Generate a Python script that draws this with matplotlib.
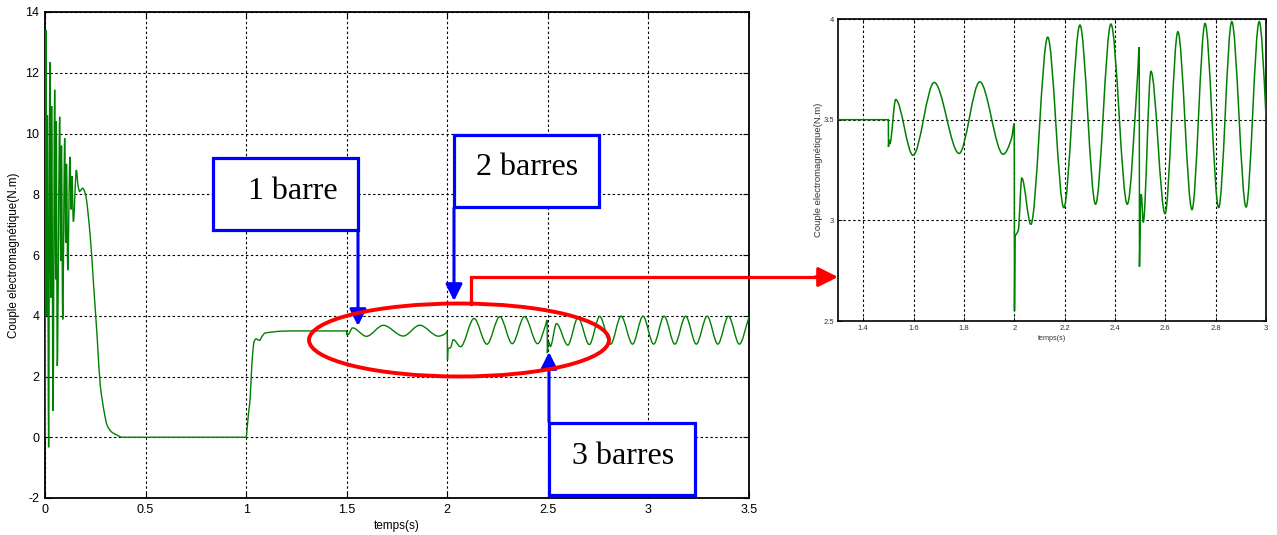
import matplotlib
matplotlib.use("Agg")
import matplotlib.pyplot as plt
from matplotlib.patches import Rectangle, Ellipse, FancyArrowPatch, PathPatch
from matplotlib.path import Path
from matplotlib.lines import Line2D
import numpy as np

W, H = 1277, 535

# ---------------- data (key points) ----------------
t_start = [0.000, 0.005, 0.009, 0.012, 0.018, 0.024, 0.029, 0.033, 0.040, 0.048, 0.053, 0.056,
           0.061, 0.073, 0.078, 0.082, 0.088, 0.098, 0.103, 0.107, 0.113, 0.124, 0.130, 0.134,
           0.141, 0.156, 0.164, 0.172, 0.180, 0.187, 0.200, 0.225, 0.242, 0.259, 0.275, 0.283,
           0.295, 0.308, 0.330, 0.358, 0.383, 0.400]
y_start = [0.0, 13.4, 4.0, 10.6, -0.33, 12.35, 4.6, 10.9, 0.87, 11.44, 5.2, 10.4,
           2.35, 10.55, 5.8, 9.6, 3.88, 9.84, 6.4, 9.0, 5.5, 9.23, 7.5, 8.6,
           7.1, 8.8, 8.3, 8.09, 8.15, 8.2, 8.03, 6.61, 4.97, 3.33, 1.69, 1.3,
           0.8, 0.41, 0.18, 0.07, 0.0, 0.0]

t_load = [1.000, 1.005, 1.012, 1.020, 1.028, 1.040, 1.050, 1.058, 1.066, 1.080, 1.094, 1.127,
          1.169, 1.250, 1.500]
y_load = [0.0, 0.3, 0.8, 1.28, 2.35, 3.16, 3.24, 3.21, 3.19, 3.33, 3.43, 3.46,
          3.49, 3.50, 3.50]

t_bar1 = [1.5005, 1.503, 1.506, 1.529, 1.598, 1.682, 1.781, 1.863, 1.956, 1.990, 2.000]
y_bar1 = [3.365, 3.40, 3.38, 3.60, 3.323, 3.685, 3.332, 3.688, 3.328, 3.41, 3.48]

t_bar2 = [2.001, 2.003, 2.0075, 2.016, 2.030, 2.066, 2.133, 2.197, 2.261, 2.323, 2.384, 2.449,
          2.490, 2.4965]
y_bar2 = [2.55, 2.92, 2.93, 2.95, 3.21, 2.98, 3.91, 3.063, 3.97, 3.08, 3.975, 3.08,
          3.72, 3.86]

t_bar3 = [2.4975, 2.5005, 2.5045, 2.5124, 2.543, 2.599, 2.650, 2.706, 2.758, 2.812, 2.864,
          2.921, 2.973]
y_bar3 = [2.77, 3.05, 3.13, 2.99, 3.74, 3.033, 3.937, 3.053, 3.978, 3.063, 3.987,
          3.066, 3.987]

t_tail = [3.026, 3.078, 3.131, 3.185, 3.238, 3.292, 3.345, 3.398, 3.452, 3.500]
y_tail = [3.066, 3.985, 3.066, 3.985, 3.066, 3.985, 3.066, 3.985, 3.066, 3.96]

main_xticks = [0, 0.5, 1, 1.5, 2, 2.5, 3, 3.5]
main_xlabels = ["0", "0.5", "1", "1.5", "2", "2.5", "3", "3.5"]
main_yticks = [-2, 0, 2, 4, 6, 8, 10, 12, 14]
main_ylabels = ["-2", "0", "2", "4", "6", "8", "10", "12", "14"]
zoom_xticks = [1.4, 1.6, 1.8, 2.0, 2.2, 2.4, 2.6, 2.8, 3.0]
zoom_xlabels = ["1.4", "1.6", "1.8", "2", "2.2", "2.4", "2.6", "2.8", "3"]
zoom_yticks = [2.5, 3.0, 3.5, 4.0]
zoom_ylabels = ["2.5", "3", "3.5", "4"]

box_texts = ["1 barre", "2 barres", "3 barres"]
ylabel_text = "Couple electromagnétique(N.m)"
xlabel_text = "temps(s)"

t_all = np.concatenate([t_start, t_load, t_bar1, t_bar2, t_bar3, t_tail])
y_all = np.concatenate([y_start, y_load, y_bar1, y_bar2, y_bar3, y_tail])


def smooth_path(t, y):
    """Monotone cubic (Fritsch-Carlson) Bezier path through the key points."""
    t = np.asarray(t, float)
    y = np.asarray(y, float)
    h = np.diff(t)
    d = np.diff(y) / h
    m = np.zeros_like(y)
    m[0], m[-1] = d[0], d[-1]
    for i in range(1, len(y) - 1):
        if d[i - 1] * d[i] > 0:
            w1 = 2 * h[i] + h[i - 1]
            w2 = h[i] + 2 * h[i - 1]
            m[i] = (w1 + w2) / (w1 / d[i - 1] + w2 / d[i])
    verts = [(t[0], y[0])]
    codes = [Path.MOVETO]
    for i in range(len(h)):
        verts += [(t[i] + h[i] / 3, y[i] + m[i] * h[i] / 3),
                  (t[i + 1] - h[i] / 3, y[i + 1] - m[i + 1] * h[i] / 3),
                  (t[i + 1], y[i + 1])]
        codes += [Path.CURVE4] * 3
    return Path(verts, codes)


# ---------------- figure ----------------
plt.rcParams['font.family'] = ['Liberation Sans', 'DejaVu Sans']
fig = plt.figure(figsize=(W / 100, H / 100), dpi=100)
fig.patch.set_facecolor('white')


def fx(x):
    return x / W


def fy(y):
    return 1 - y / H


GREEN = '#008000'
grid_kw = dict(color='black', linestyle=(0, (2.2, 2.2)), linewidth=0.8)
curve = smooth_path(t_all, y_all)

# main axes
ax = fig.add_axes([fx(45), fy(498), fx(749) - fx(45), fy(12) - fy(498)])
ax.add_patch(PathPatch(curve, fill=False, edgecolor=GREEN, lw=1.0, zorder=3))
ax.set_xlim(0, 3.5)
ax.set_ylim(-2, 14)
ax.set_xticks(main_xticks)
ax.set_xticklabels(main_xlabels)
ax.set_yticks(main_yticks)
ax.set_yticklabels(main_ylabels)
ax.grid(True, **grid_kw)
ax.tick_params(direction='in', length=4, width=0.8, top=True, right=True,
               labelsize=9, pad=4, colors='black')
for s in ax.spines.values():
    s.set_linewidth(1.3)
ax.set_xlabel(xlabel_text, fontsize=8.5)
ax.xaxis.set_label_coords(0.5, -0.045)
ax.set_ylabel(ylabel_text, fontsize=8.4)
ax.yaxis.set_label_coords(-0.036, 0.5)

# zoom axes
ax2 = fig.add_axes([fx(838), fy(321), fx(1266) - fx(838), fy(19) - fy(321)])
ax2.add_patch(PathPatch(curve, fill=False, edgecolor=GREEN, lw=1.1, zorder=3))
ax2.set_xlim(1.3, 3.0)
ax2.set_ylim(2.5, 4.0)
ax2.set_xticks(zoom_xticks)
ax2.set_xticklabels(zoom_xlabels)
ax2.set_yticks(zoom_yticks)
ax2.set_yticklabels(zoom_ylabels)
ax2.grid(True, **grid_kw)
ax2.tick_params(direction='in', length=3, width=0.6, top=True, right=True,
                labelsize=5.5, pad=3, colors='black', labelcolor='#333333')
for s in ax2.spines.values():
    s.set_linewidth(1.2)
ax2.set_xlabel(xlabel_text, fontsize=5.2, color='#333333')
ax2.xaxis.set_label_coords(0.5, -0.045)
ax2.set_ylabel(ylabel_text, fontsize=6.8, color='#333333')
ax2.yaxis.set_label_coords(-0.035, 0.5)

# ---------------- annotations ----------------
BLUE = '#0000FF'
RED = '#FF0000'
serif = ['Liberation Serif', 'DejaVu Serif']

boxes = [(213, 158, 358, 230), (454, 135, 599, 207), (549, 423, 695, 495)]
text_pos = [(293, 199), (527, 175), (623, 464)]
for (x0, y0, x1, y1), (tx, ty), txt in zip(boxes, text_pos, box_texts):
    fig.add_artist(Rectangle((fx(x0), fy(y1)), fx(x1) - fx(x0), fy(y0) - fy(y1),
                             transform=fig.transFigure, facecolor='white',
                             edgecolor=BLUE, linewidth=2.3, zorder=5))
    fig.text(fx(tx), fy(ty), txt, ha='center', va='baseline', fontsize=23,
             family=serif, color='black', zorder=6)

arrows = [((358, 231), (358, 326)), ((454, 208), (454, 301)), ((549, 422), (549, 352))]
for (a, b) in arrows:
    fig.add_artist(FancyArrowPatch((fx(a[0]), fy(a[1])), (fx(b[0]), fy(b[1])),
                                   transform=fig.transFigure,
                                   arrowstyle='-|>,head_length=10,head_width=5',
                                   mutation_scale=1, color=BLUE, lw=2.2,
                                   shrinkA=0, shrinkB=0, zorder=6))

# red ellipse and link arrow
fig.add_artist(Ellipse((fx(459), fy(340)), fx(300), 73 / H, transform=fig.transFigure,
                       fill=False, edgecolor=RED, linewidth=2.8, zorder=7))
fig.add_artist(Line2D([fx(471), fx(471), fx(826)], [fy(304), fy(277), fy(277)],
                      transform=fig.transFigure, color=RED, lw=2.3, zorder=7,
                      solid_joinstyle='miter'))
fig.add_artist(FancyArrowPatch((fx(815), fy(277)), (fx(838), fy(277)),
                               transform=fig.transFigure,
                               arrowstyle='-|>,head_length=12,head_width=6',
                               mutation_scale=1, color=RED, lw=2.3,
                               shrinkA=0, shrinkB=0, zorder=7))

fig.savefig('out.png', dpi=100, facecolor='white')
